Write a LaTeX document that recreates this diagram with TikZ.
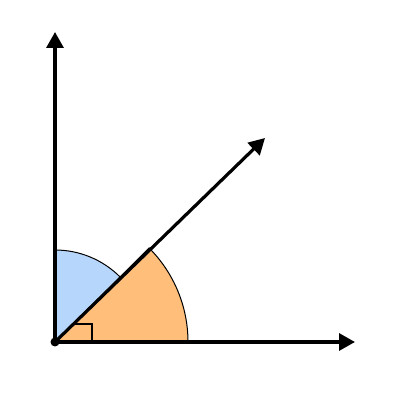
\documentclass[tikz,border=0pt]{standalone}
\usetikzlibrary{arrows.meta,calc}
\definecolor{colorUP}{RGB}{182,214,252}
\definecolor{colorLOW}{RGB}{255,190,122}
\tikzset{
   every path/.style={>={Triangle[length=16pt,width=17pt]}},
   ax/.style={->,line width=3.2pt},
   sec/.style={draw=black,line width=1pt},
   ra/.style={draw=black,line width=2pt},
}

\begin{document}
\begin{tikzpicture}[x=1pt, y=1pt]
    \useasboundingbox (0,0) rectangle (400,400);

    \coordinate (o) at (55,58);
    \coordinate (xe) at (355,58);
    \coordinate (ye) at (55,368);
    \coordinate (de) at (265,262);

    \filldraw[sec, fill=colorUP] (o) -- ++(45:92) arc (45:90:92) -- cycle;
    \filldraw[sec, fill=colorLOW] (o) -- ++(0:133) arc (0:45:133) -- cycle;

    \draw[ra] ($(o) + (18,18)$) -- ($(o) + (37,18)$) -- ($(o) + (37,0)$);

    \draw[ax] (o) -- (xe);
    \draw[ax] (o) -- (ye);
    \draw[ax] (o) -- (de);

    \fill (o) circle (4.5);

\end{tikzpicture}
\end{document}
